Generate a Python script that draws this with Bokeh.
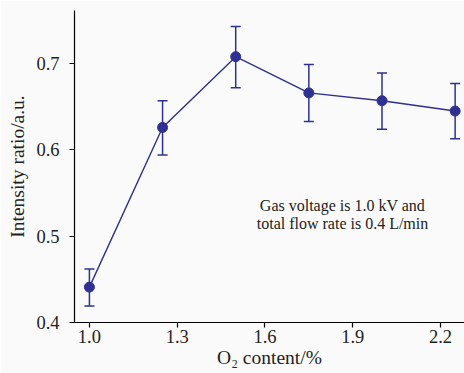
from bokeh.plotting import figure
from bokeh.models import Whisker, TeeHead, ColumnDataSource, FixedTicker, Label, Range1d, NumeralTickFormatter
from bokeh.embed import file_html
from bokeh.resources import INLINE

o2_content = [1.0, 1.25, 1.5, 1.75, 2.0, 2.25]
intensity_ratio = [0.441, 0.626, 0.708, 0.666, 0.657, 0.645]
err_upper = [0.462, 0.657, 0.743, 0.699, 0.689, 0.677]
err_lower = [0.419, 0.594, 0.672, 0.633, 0.624, 0.613]
x_ticks = [1.0, 1.3, 1.6, 1.9, 2.2]
y_ticks = [0.4, 0.5, 0.6, 0.7]
note_line1 = "Gas voltage is 1.0 kV and"
note_line2 = "total flow rate is 0.4 L/min"

COLOR = "#2e3192"
FONT = "Liberation Serif"
BG = "#fafafa"

src = ColumnDataSource(dict(x=o2_content, y=intensity_ratio, upper=err_upper, lower=err_lower))

p = figure(width=464, height=373, output_backend="svg", toolbar_location=None,
           x_range=Range1d(0.949, 2.282), y_range=Range1d(0.4, 0.7615),
           min_border_left=74, min_border_right=0, min_border_top=10, min_border_bottom=51)

p.background_fill_color = BG
p.border_fill_color = BG
p.outline_line_color = None
p.xgrid.grid_line_color = None
p.ygrid.grid_line_color = None

for ax in (p.xaxis[0], p.yaxis[0]):
    ax.axis_line_color = "black"
    ax.axis_line_width = 1.2
    ax.major_tick_line_color = "black"
    ax.major_tick_line_width = 1.2
    ax.major_tick_in = 0
    ax.major_tick_out = 5
    ax.minor_tick_line_color = None
    ax.major_label_text_font = FONT
    ax.major_label_text_font_size = "18.5px"
    ax.major_label_text_color = "#222222"
    ax.axis_label_text_font = FONT
    ax.axis_label_text_font_size = "19.5px"
    ax.axis_label_text_font_style = "normal"
    ax.axis_label_text_color = "#222222"
    ax.formatter = NumeralTickFormatter(format="0.0")

p.xaxis.ticker = FixedTicker(ticks=x_ticks)
p.yaxis.ticker = FixedTicker(ticks=y_ticks)
p.xaxis.major_label_standoff = 2
p.xaxis.axis_label_standoff = 1
p.yaxis.major_label_standoff = 10
p.yaxis.axis_label_standoff = 5
p.xaxis.axis_label = "O\u2082 content/%"
p.yaxis.axis_label = "Intensity ratio/a.u."

p.add_layout(Whisker(source=src, base="x", upper="upper", lower="lower",
                     line_color=COLOR, line_width=1.5,
                     upper_head=TeeHead(size=10, line_color=COLOR, line_width=1.5),
                     lower_head=TeeHead(size=10, line_color=COLOR, line_width=1.5)))
p.line("x", "y", source=src, line_color=COLOR, line_width=1.4)
p.scatter("x", "y", source=src, size=10, fill_color=COLOR, line_color=COLOR)

p.add_layout(Label(x=268, y=117, x_units="screen", y_units="screen", text=note_line1,
                   text_align="center", text_baseline="middle", text_font=FONT,
                   text_font_size="16px", text_color="#222222"))
p.add_layout(Label(x=268, y=99, x_units="screen", y_units="screen", text=note_line2,
                   text_align="center", text_baseline="middle", text_font=FONT,
                   text_font_size="16px", text_color="#222222"))

open("out.html", "w").write(file_html(p, INLINE))
